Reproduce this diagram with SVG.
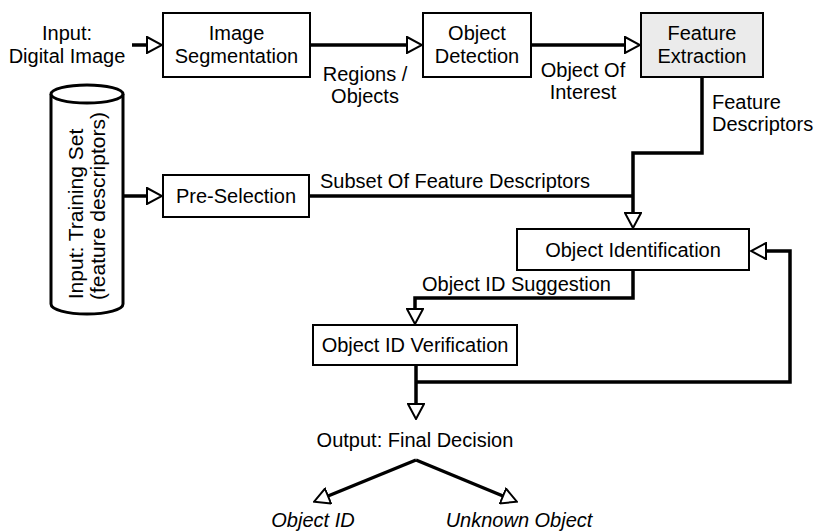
<svg xmlns="http://www.w3.org/2000/svg" width="817" height="532" viewBox="0 0 817 532">
<style>
text{font-family:"Liberation Sans",Arial,sans-serif;font-size:20px;fill:#000}
.c{text-anchor:middle}
.i{font-style:italic}
.box{fill:#fff;stroke:#000;stroke-width:2}
.gray{fill:#ebebeb}
.con{fill:none;stroke:#000;stroke-width:3.5;stroke-linejoin:miter}
.arr{marker-end:url(#ah)}
</style>
<defs>
<marker id="ah" viewBox="0 0 17 18" refX="1" refY="9" markerWidth="17" markerHeight="18" markerUnits="userSpaceOnUse" orient="auto">
<path d="M1,1 L16,9 L1,17 Z" fill="#fff" stroke="#000" stroke-width="2" stroke-linejoin="miter"/>
</marker>
</defs>
<rect width="817" height="532" fill="#fff"/>

<g id="connectors">
<path class="con arr" d="M132,45 H147"/>
<path class="con arr" d="M310,45 H407"/>
<path class="con arr" d="M531,45 H625"/>
<path class="con arr" d="M702,77 V153 H633 V213"/>
<path class="con" d="M309,196 H633"/>
<path class="con arr" d="M123,196 H147"/>
<path class="con arr" d="M633,270 V298 H415 V309"/>
<path class="con arr" d="M416,365 V404"/>
<path class="con arr" d="M416,382 H790 V251 H766"/>
<path class="con arr" d="M416,460 L328,496"/>
<path class="con arr" d="M416,460 L503,496"/>
</g>

<g id="input-image">
<text class="c" x="67" y="40">Input:</text>
<text class="c" x="67" y="63">Digital Image</text>
</g>

<g id="training-set">
<path d="M51,94 V304 A36,10 0 0 0 123,304 V94" fill="#fff" stroke="#000" stroke-width="3"/>
<ellipse cx="87" cy="94" rx="36" ry="9" fill="#fff" stroke="#000" stroke-width="3"/>
<text class="c" transform="translate(83,214) rotate(-90)" style="font-size:21px">Input: Training Set</text>
<text class="c" transform="translate(105,206) rotate(-90)" style="font-size:21px">(feature descriptors)</text>
</g>

<g id="image-segmentation">
<rect class="box" x="163" y="13" width="147" height="64"/>
<text class="c" x="236.5" y="40">Image</text>
<text class="c" x="236.5" y="63">Segmentation</text>
</g>

<g id="object-detection">
<rect class="box" x="423" y="13" width="108" height="64"/>
<text class="c" x="477" y="40">Object</text>
<text class="c" x="477" y="63">Detection</text>
</g>

<g id="feature-extraction">
<rect class="box gray" x="641" y="13" width="122" height="64"/>
<text class="c" x="702" y="40">Feature</text>
<text class="c" x="702" y="63">Extraction</text>
</g>

<g id="pre-selection">
<rect class="box" x="163" y="175" width="146" height="42"/>
<text class="c" x="236" y="203">Pre-Selection</text>
</g>

<g id="object-identification">
<rect class="box" x="517" y="229" width="232" height="41"/>
<text class="c" x="633" y="257">Object Identification</text>
</g>

<g id="object-id-verification">
<rect class="box" x="313" y="325" width="204" height="40"/>
<text class="c" x="415" y="352">Object ID Verification</text>
</g>

<g id="labels">
<text class="c" x="365" y="81">Regions /</text>
<text class="c" x="365" y="103">Objects</text>
<text class="c" x="583" y="77">Object Of</text>
<text class="c" x="583" y="99">Interest</text>
<text x="712" y="109">Feature</text>
<text x="712" y="131">Descriptors</text>
<text x="320" y="188">Subset Of Feature Descriptors</text>
<text x="422" y="291">Object ID Suggestion</text>
</g>

<g id="output">
<text class="c" x="415" y="447">Output: Final Decision</text>
</g>
<g id="object-id">
<text class="c i" x="313" y="527">Object ID</text>
</g>
<g id="unknown-object">
<text class="c i" x="519" y="527">Unknown Object</text>
</g>
</svg>
